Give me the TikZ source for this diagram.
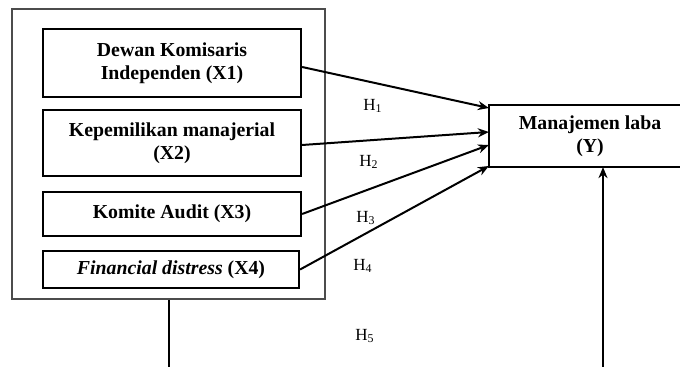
\documentclass[tikz,border=0pt]{standalone}
\usepackage{fontspec}
\setmainfont{Liberation Serif}
\usetikzlibrary{arrows.meta}

\begin{document}
\begin{tikzpicture}[
    x=0.5pt, y=-0.5pt,
    >={Stealth[length=5.5pt,width=4.5pt]},
    var/.style={draw,line width=1.1pt,align=center,inner sep=0pt,
        font=\fontsize{9.9}{11.5}\selectfont\bfseries},
    group/.style={draw=black!70,line width=1pt,inner sep=0pt},
    link/.style={->,line width=1pt},
    hyp/.style={font=\fontsize{8.5}{10}\selectfont},
]
\useasboundingbox (0,0) rectangle (680,367);
\clip (0,0) rectangle (680,367);

% Outer group
\node[group,minimum width=156.5pt,minimum height=145pt] (outer) at (168.5,154) {};

% Independent variables
\node[var,minimum width=129pt,minimum height=34pt] (x1) at (172,63)
    {Dewan Komisaris\\Independen (X1)};
\node[var,minimum width=129pt,minimum height=33pt] (x2) at (172,143)
    {Kepemilikan manajerial\\(X2)};
\node[var,minimum width=129pt,minimum height=22pt] (x3) at (172,214)
    {Komite Audit (X3)};
\node[var,minimum width=128pt,minimum height=18.5pt] (x4) at (171,269.5)
    {\textit{Financial distress} (X4)};

% Dependent variable (box runs past the right edge)
\node[var,draw=none,minimum width=100pt,minimum height=30pt] (y) at (590,136)
    {Manajemen laba\\(Y)};
\draw[line width=1.1pt] (y.north west) rectangle ([xshift=20pt]y.south east);

% Paths
\draw[link] ([yshift=-2pt]x1.east) -- ([yshift=14pt]y.west);
\draw[link] ([yshift=-1pt]x2.east) -- ([yshift=2pt]y.west);
\draw[link] (x3.east) -- ([yshift=-4.5pt]y.west);
\draw[link] (x4.east) -- ([yshift=-15pt]y.west);

\coordinate (turn) at (603,369);
\draw[link] (outer.south) |- (turn) -- (turn |- y.south);

% Hypothesis labels
\node[hyp] (h1) at (373,106) {H\textsubscript{1}};
\node[hyp] (h2) at (369,162) {H\textsubscript{2}};
\node[hyp] (h3) at (366,218) {H\textsubscript{3}};
\node[hyp] (h4) at (363,266) {H\textsubscript{4}};
\node[hyp] (h5) at (365,336) {H\textsubscript{5}};
\end{tikzpicture}
\end{document}
